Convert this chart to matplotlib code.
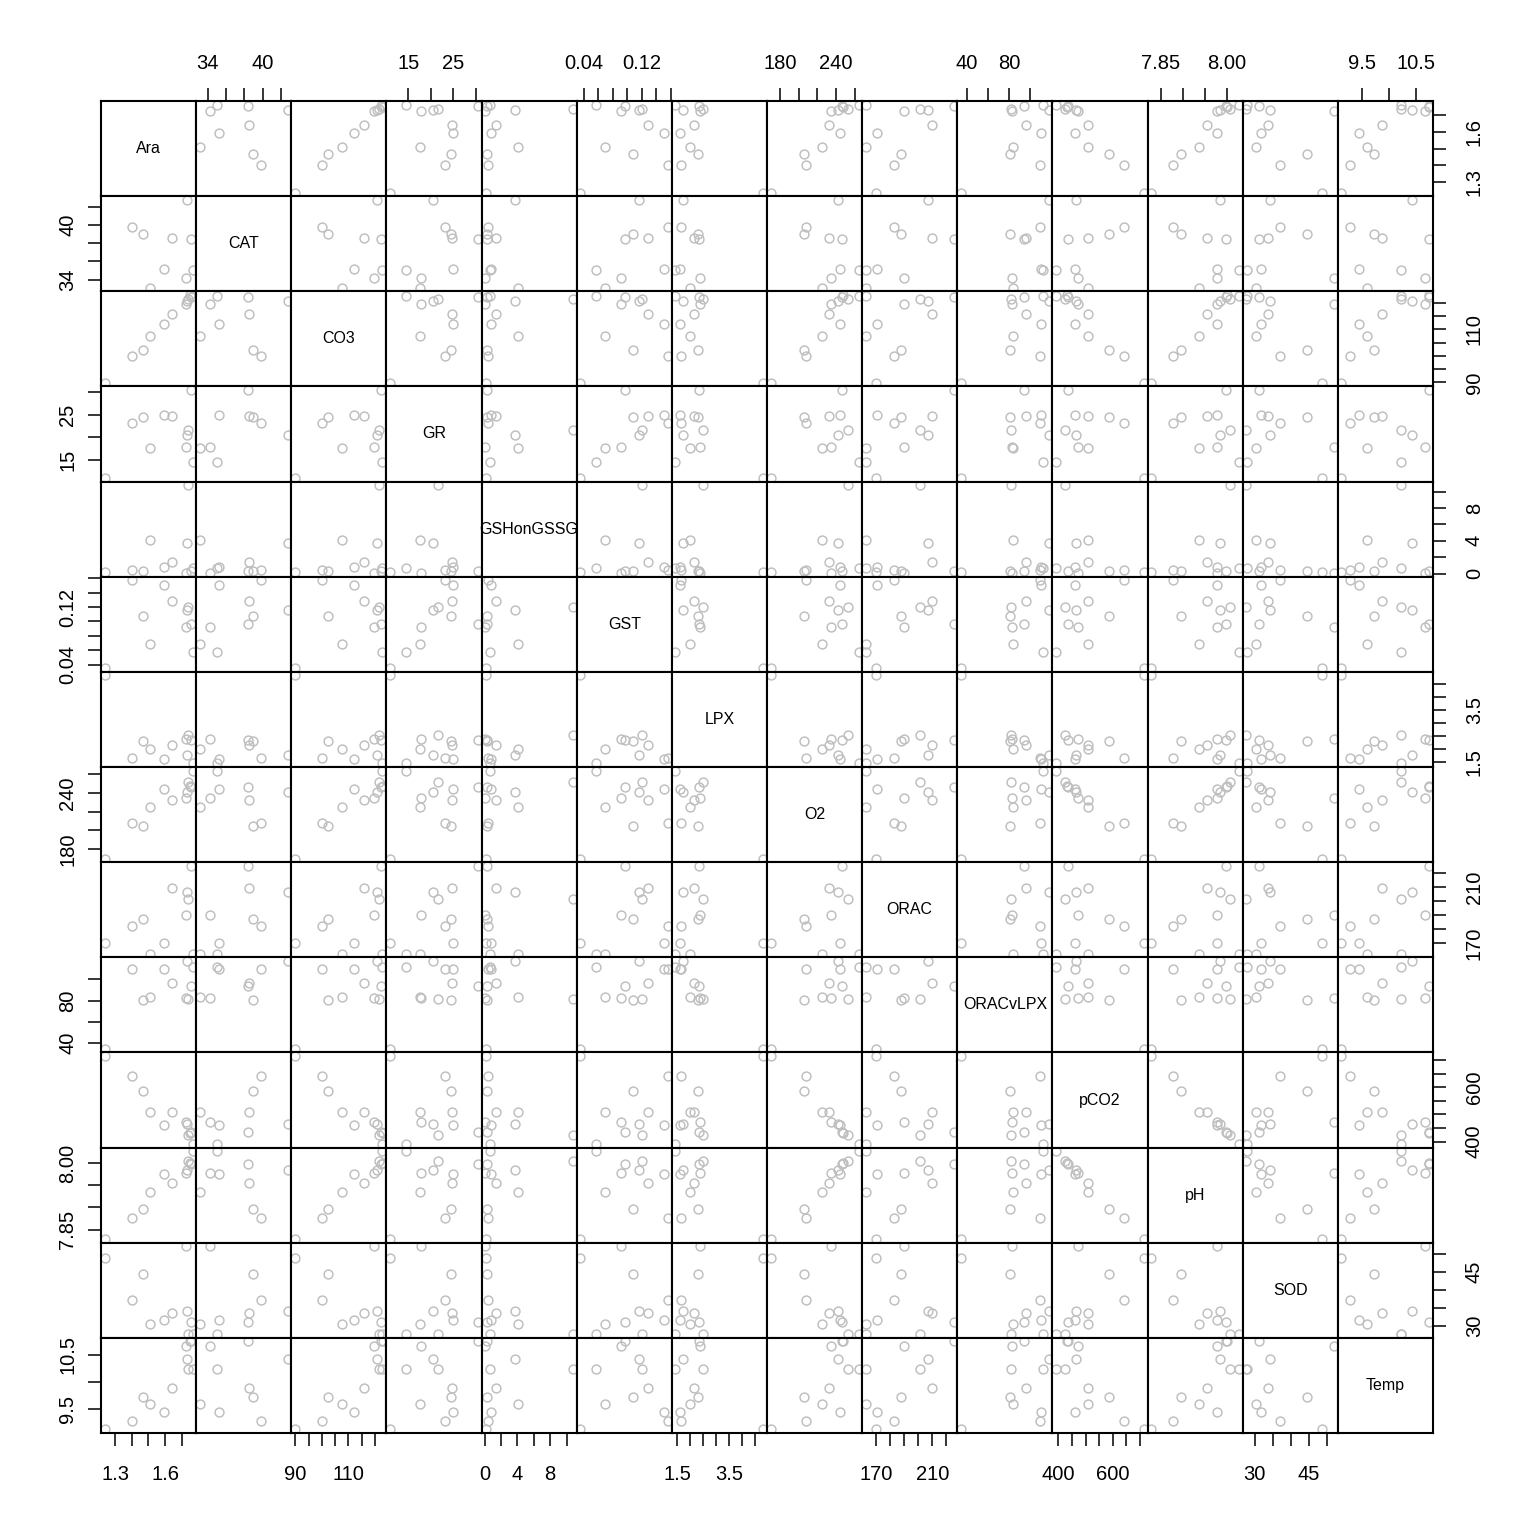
import numpy as np
import matplotlib.pyplot as plt

plt.rcParams['font.family'] = ['Liberation Sans', 'DejaVu Sans']

nan = np.nan

names = ['Ara', 'CAT', 'CO3', 'GR', 'GSHonGSSG', 'GST', 'LPX', 'O2',
         'ORAC', 'ORACvLPX', 'pCO2', 'pH', 'SOD', 'Temp']

Ara = [1.237, 1.40, 1.466, 1.51, 1.592, 1.64, 1.724, 1.73, 1.736, 1.75, 1.756, 1.765]
CAT = [nan, 39.8, 38.97, 33.1, 35.2, 38.55, 34.2, 42.77, nan, nan, 38.4, 35.0]
CO3 = [89.8, 99.9, 102.2, 107.6, 112.0, 115.8, 119.7, 120.6, 121.4, 123.0, 122.3, 122.6]
GR = [10.9, 23.2, 24.5, 17.6, 25.0, 24.6, 17.7, 20.4, 21.5, nan, 30.45, 14.5]
GSHonGSSG = [0.18, 0.4, 0.27, 4.1, 0.77, 1.45, 0.06, 3.7, 10.8, nan, 0.27, 0.68]
GST = [0.0353, 0.157, 0.108, 0.069, 0.151, 0.129, 0.092, 0.116, 0.12, nan, 0.097, 0.0577]
LPX = [4.83, 1.66, 2.31, 2.0, 1.6, 2.15, 2.4, 1.75, 2.52, nan, 2.33, 1.44]
O2 = [169.8, 207.6, 205.1, 225.4, 244.4, 232.6, 234.4, 241.5, 252.2, 247.6, 246.0, 264.1]
ORAC = [170.0, 182.4, 187.4, 162.5, 170.4, 209.7, 190.2, 206.9, 201.5, nan, 225.4, 162.6]
ORACvLPX = [34.5, 109.6, 81.0, 83.5, 110.0, 96.3, 82.9, 117.6, 82.0, nan, 93.7, 112.1]
pCO2 = [714.5, 640, 585, 510, 461, 510, 472, 463, 423, 433, 436, 391]
pH = [7.828, 7.877, 7.897, 7.936, 7.977, 7.956, 7.978, 7.985, 8.006, 8.0, 7.998, 8.028]
SOD = [48.8, 37.1, 44.5, 30.4, 31.6, 33.6, 52.1, 34.2, 27.6, nan, 31.1, 27.8]
Temp = [9.12, 9.28, 9.73, 9.6, 9.45, 9.88, 10.67, 10.42, 10.23, 10.75, 10.75, 10.23]

cols = [Ara, CAT, CO3, GR, GSHonGSSG, GST, LPX, O2, ORAC, ORACvLPX, pCO2, pH, SOD, Temp]

# tick positions and the ones that get a label
ticks = [
    ([1.3, 1.4, 1.5, 1.6, 1.7], ['1.3', '', '', '1.6', '']),
    ([34, 36, 38, 40, 42], ['34', '', '', '40', '']),
    ([90, 95, 100, 105, 110, 115, 120], ['90', '', '', '', '110', '', '']),
    ([15, 20, 25, 30], ['15', '', '25', '']),
    ([0, 2, 4, 6, 8, 10], ['0', '', '4', '', '8', '']),
    ([0.04, 0.06, 0.08, 0.10, 0.12, 0.14, 0.16], ['0.04', '', '', '', '0.12', '', '']),
    ([1.5, 2.0, 2.5, 3.0, 3.5, 4.0, 4.5], ['1.5', '', '', '', '3.5', '', '']),
    ([180, 200, 220, 240, 260], ['180', '', '', '240', '']),
    ([170, 180, 190, 200, 210, 220], ['170', '', '', '', '210', '']),
    ([40, 60, 80, 100], ['40', '', '80', '']),
    ([400, 450, 500, 550, 600, 650, 700], ['400', '', '', '', '600', '', '']),
    ([7.85, 7.90, 7.95, 8.00], ['7.85', '', '', '8.00']),
    ([30, 35, 40, 45, 50], ['30', '', '', '45', '']),
    ([9.5, 10.0, 10.5], ['9.5', '', '10.5']),
]


def lims(v):
    v = np.asarray(v, float)
    lo, hi = np.nanmin(v), np.nanmax(v)
    d = (hi - lo) * 0.04
    return lo - d, hi + d


n = len(names)
fig, axes = plt.subplots(n, n, figsize=(15.36, 15.36), dpi=100,
                         gridspec_kw=dict(wspace=0, hspace=0))
fig.subplots_adjust(left=101/1536, right=1433/1536, bottom=1-1433/1536, top=1-101/1536)

for i in range(n):
    for j in range(n):
        ax = axes[i, j]
        ax.set_xlim(lims(cols[j]))
        ax.set_ylim(lims(cols[i]))
        ax.set_xticks([])
        ax.set_yticks([])
        for s in ax.spines.values():
            s.set_linewidth(1.5)
        if i == j:
            ax.text(0.5, 0.5, names[i], transform=ax.transAxes,
                    ha='center', va='center', fontsize=11.5)
        else:
            ax.plot(cols[j], cols[i], 'o', ms=6.4, mfc='none', mec='#bebebe', mew=1.05)

tp = dict(length=9.5, width=1.1, labelsize=14.5)
for j in range(n):
    t, lab = ticks[j]
    if j % 2 == 1:
        ax = axes[0, j]
        ax.xaxis.tick_top()
        ax.set_xticks(t, lab)
        ax.tick_params(axis='x', pad=11, **tp)
    else:
        ax = axes[n-1, j]
        ax.set_xticks(t, lab)
        ax.tick_params(axis='x', pad=13.5, **tp)

for i in range(n):
    t, lab = ticks[i]
    if i % 2 == 1:
        ax = axes[i, 0]
        ax.set_yticks(t, lab, rotation=90, va='center')
        ax.tick_params(axis='y', pad=7.5, **tp)
    else:
        ax = axes[i, n-1]
        ax.yaxis.tick_right()
        ax.set_yticks(t, lab, rotation=90, va='center')
        ax.tick_params(axis='y', pad=13.5, **tp)

fig.savefig('out.png', dpi=100)
